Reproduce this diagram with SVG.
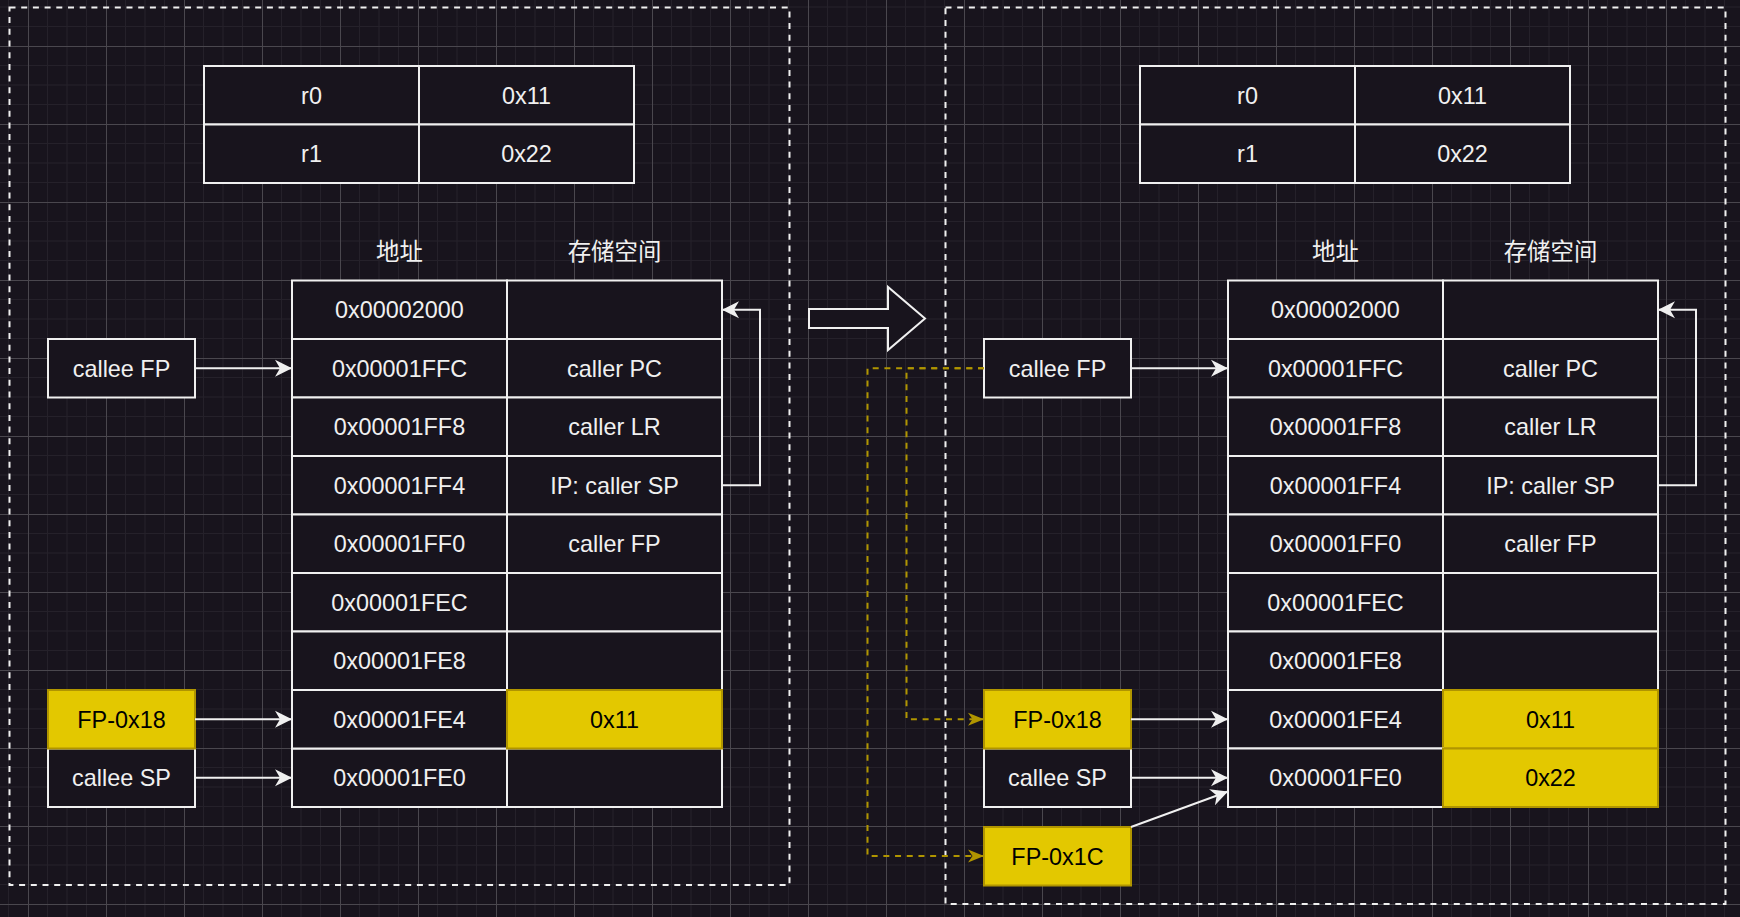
<svg xmlns="http://www.w3.org/2000/svg" width="1740" height="917" viewBox="0 0 1740 917">
<style>
.cell{fill:#18141d;stroke:#f0f0f0;stroke-width:2}
.ycell{fill:#e3c800;stroke:#b09500;stroke-width:2}
.t{font-family:"Liberation Sans",Arial,sans-serif;font-size:23.4px;fill:#f0f0f0;text-anchor:middle}
.yt{fill:#000000}
.hdr{font-family:"Noto Sans CJK SC","Noto Sans CJK JP",sans-serif;font-size:23.4px;fill:#f0f0f0;text-anchor:middle}
.conn{stroke:#f0f0f0;stroke-width:2;fill:none}
.dconn{stroke:#b09500;stroke-width:2;fill:none;stroke-dasharray:6 5.7}
.frame{fill:none;stroke:#f0f0f0;stroke-width:2;stroke-dasharray:6 5.7}
</style>
<defs>
<pattern id="grid" x="28" y="46" width="78" height="78" patternUnits="userSpaceOnUse">
<rect x="0" y="0" width="78" height="78" fill="#18141d"/>
<g fill="#25212a">
<rect x="19" y="0" width="1" height="78"/><rect x="38.5" y="0" width="1" height="78"/><rect x="58" y="0" width="1" height="78"/>
<rect x="0" y="19" width="78" height="1"/><rect x="0" y="38.5" width="78" height="1"/><rect x="0" y="58" width="78" height="1"/>
</g>
<g fill="#4a474e">
<rect x="0" y="0" width="1" height="78"/><rect x="0" y="0" width="78" height="1"/>
</g>
</pattern>
<marker id="arrW" markerUnits="userSpaceOnUse" markerWidth="18" markerHeight="18" refX="17" refY="8.5" orient="auto" viewBox="0 0 18 17">
<path d="M17,8.5 L0,0 L5,8.5 L0,17 Z" fill="#f0f0f0"/>
</marker>
<marker id="arrY" markerUnits="userSpaceOnUse" markerWidth="16" markerHeight="14" refX="16" refY="6.5" orient="auto" viewBox="0 0 16 13">
<path d="M16,6.5 L0,0 L4.5,6.5 L0,13 Z" fill="#b09500"/>
</marker>
</defs>
<rect x="0" y="0" width="1740" height="917" fill="url(#grid)"/>

<g id="frames">
<rect class="frame" x="9.5" y="7.5" width="780" height="877.5"/>
<rect class="frame" x="945.5" y="7.5" width="780" height="896.5"/>
</g>

<g id="transition-arrow">
<path d="M809,309 L888,309 L888,287 L925,318.5 L888,350 L888,328 L809,328 Z" fill="#18141d" stroke="#f0f0f0" stroke-width="2"/>
</g>

<!-- LEFT PANEL -->
<g id="L-regs">
<rect class="cell" x="204" y="66" width="215" height="58.5"/>
<rect class="cell" x="419" y="66" width="215" height="58.5"/>
<rect class="cell" x="204" y="124.5" width="215" height="58.5"/>
<rect class="cell" x="419" y="124.5" width="215" height="58.5"/>
<text class="t" x="311.5" y="103.6">r0</text>
<text class="t" x="526.5" y="103.6">0x11</text>
<text class="t" x="311.5" y="162.1">r1</text>
<text class="t" x="526.5" y="162.1">0x22</text>
</g>
<g id="L-headers">
<text class="hdr" x="399.5" y="259.5">地址</text>
<text class="hdr" x="614.5" y="259.5">存储空间</text>
</g>
<g id="L-mem">
<g id="L-row0"><rect class="cell" x="292" y="280.5" width="215" height="58.5"/><rect class="cell" x="507" y="280.5" width="215" height="58.5"/><text class="t" x="399.5" y="318.1">0x00002000</text></g>
<g id="L-row1"><rect class="cell" x="292" y="339" width="215" height="58.5"/><rect class="cell" x="507" y="339" width="215" height="58.5"/><text class="t" x="399.5" y="376.6">0x00001FFC</text><text class="t" x="614.5" y="376.6">caller PC</text></g>
<g id="L-row2"><rect class="cell" x="292" y="397.5" width="215" height="58.5"/><rect class="cell" x="507" y="397.5" width="215" height="58.5"/><text class="t" x="399.5" y="435.1">0x00001FF8</text><text class="t" x="614.5" y="435.1">caller LR</text></g>
<g id="L-row3"><rect class="cell" x="292" y="456" width="215" height="58.5"/><rect class="cell" x="507" y="456" width="215" height="58.5"/><text class="t" x="399.5" y="493.6">0x00001FF4</text><text class="t" x="614.5" y="493.6">IP: caller SP</text></g>
<g id="L-row4"><rect class="cell" x="292" y="514.5" width="215" height="58.5"/><rect class="cell" x="507" y="514.5" width="215" height="58.5"/><text class="t" x="399.5" y="552.1">0x00001FF0</text><text class="t" x="614.5" y="552.1">caller FP</text></g>
<g id="L-row5"><rect class="cell" x="292" y="573" width="215" height="58.5"/><rect class="cell" x="507" y="573" width="215" height="58.5"/><text class="t" x="399.5" y="610.6">0x00001FEC</text></g>
<g id="L-row6"><rect class="cell" x="292" y="631.5" width="215" height="58.5"/><rect class="cell" x="507" y="631.5" width="215" height="58.5"/><text class="t" x="399.5" y="669.1">0x00001FE8</text></g>
<g id="L-row8"><rect class="cell" x="292" y="748.5" width="215" height="58.5"/><rect class="cell" x="507" y="748.5" width="215" height="58.5"/><text class="t" x="399.5" y="786.1">0x00001FE0</text></g>
<g id="L-row7"><rect class="cell" x="292" y="690" width="215" height="58.5"/><rect class="ycell" x="507" y="690" width="215" height="58.5"/><text class="t" x="399.5" y="727.6">0x00001FE4</text><text class="t yt" x="614.5" y="727.6">0x11</text></g>
</g>
<g id="L-calleeFP"><rect class="cell" x="48" y="339" width="147" height="58.5"/><text class="t" x="121.5" y="376.6">callee FP</text></g>
<g id="L-calleeSP"><rect class="cell" x="48" y="748.5" width="147" height="58.5"/><text class="t" x="121.5" y="786.1">callee SP</text></g>
<g id="L-FP0x18"><rect class="ycell" x="48" y="690" width="147" height="58.5"/><text class="t yt" x="121.5" y="727.6">FP-0x18</text></g>

<!-- RIGHT PANEL -->
<g id="R-regs">
<rect class="cell" x="1140" y="66" width="215" height="58.5"/>
<rect class="cell" x="1355" y="66" width="215" height="58.5"/>
<rect class="cell" x="1140" y="124.5" width="215" height="58.5"/>
<rect class="cell" x="1355" y="124.5" width="215" height="58.5"/>
<text class="t" x="1247.5" y="103.6">r0</text>
<text class="t" x="1462.5" y="103.6">0x11</text>
<text class="t" x="1247.5" y="162.1">r1</text>
<text class="t" x="1462.5" y="162.1">0x22</text>
</g>
<g id="R-headers">
<text class="hdr" x="1335.5" y="259.5">地址</text>
<text class="hdr" x="1550.5" y="259.5">存储空间</text>
</g>
<g id="R-mem">
<g id="R-row0"><rect class="cell" x="1228" y="280.5" width="215" height="58.5"/><rect class="cell" x="1443" y="280.5" width="215" height="58.5"/><text class="t" x="1335.5" y="318.1">0x00002000</text></g>
<g id="R-row1"><rect class="cell" x="1228" y="339" width="215" height="58.5"/><rect class="cell" x="1443" y="339" width="215" height="58.5"/><text class="t" x="1335.5" y="376.6">0x00001FFC</text><text class="t" x="1550.5" y="376.6">caller PC</text></g>
<g id="R-row2"><rect class="cell" x="1228" y="397.5" width="215" height="58.5"/><rect class="cell" x="1443" y="397.5" width="215" height="58.5"/><text class="t" x="1335.5" y="435.1">0x00001FF8</text><text class="t" x="1550.5" y="435.1">caller LR</text></g>
<g id="R-row3"><rect class="cell" x="1228" y="456" width="215" height="58.5"/><rect class="cell" x="1443" y="456" width="215" height="58.5"/><text class="t" x="1335.5" y="493.6">0x00001FF4</text><text class="t" x="1550.5" y="493.6">IP: caller SP</text></g>
<g id="R-row4"><rect class="cell" x="1228" y="514.5" width="215" height="58.5"/><rect class="cell" x="1443" y="514.5" width="215" height="58.5"/><text class="t" x="1335.5" y="552.1">0x00001FF0</text><text class="t" x="1550.5" y="552.1">caller FP</text></g>
<g id="R-row5"><rect class="cell" x="1228" y="573" width="215" height="58.5"/><rect class="cell" x="1443" y="573" width="215" height="58.5"/><text class="t" x="1335.5" y="610.6">0x00001FEC</text></g>
<g id="R-row6"><rect class="cell" x="1228" y="631.5" width="215" height="58.5"/><rect class="cell" x="1443" y="631.5" width="215" height="58.5"/><text class="t" x="1335.5" y="669.1">0x00001FE8</text></g>
<g id="R-row7"><rect class="cell" x="1228" y="690" width="215" height="58.5"/><rect class="ycell" x="1443" y="690" width="215" height="58.5"/><text class="t" x="1335.5" y="727.6">0x00001FE4</text><text class="t yt" x="1550.5" y="727.6">0x11</text></g>
<g id="R-row8"><rect class="cell" x="1228" y="748.5" width="215" height="58.5"/><rect class="ycell" x="1443" y="748.5" width="215" height="58.5"/><text class="t" x="1335.5" y="786.1">0x00001FE0</text><text class="t yt" x="1550.5" y="786.1">0x22</text></g>
</g>
<g id="R-calleeFP"><rect class="cell" x="984" y="339" width="147" height="58.5"/><text class="t" x="1057.5" y="376.6">callee FP</text></g>
<g id="R-calleeSP"><rect class="cell" x="984" y="748.5" width="147" height="58.5"/><text class="t" x="1057.5" y="786.1">callee SP</text></g>
<g id="R-FP0x18"><rect class="ycell" x="984" y="690" width="147" height="58.5"/><text class="t yt" x="1057.5" y="727.6">FP-0x18</text></g>
<g id="R-FP0x1C"><rect class="ycell" x="984" y="827" width="147" height="58.5"/><text class="t yt" x="1057.5" y="864.6">FP-0x1C</text></g>

<g id="connectors">
<path class="conn" d="M195,368.25 H292" marker-end="url(#arrW)"/>
<path class="conn" d="M195,719.25 H292" marker-end="url(#arrW)"/>
<path class="conn" d="M195,777.75 H292" marker-end="url(#arrW)"/>
<path class="conn" d="M722,485.25 H760 V309.75 H722" marker-end="url(#arrW)"/>
<path class="conn" d="M1131,368.25 H1228" marker-end="url(#arrW)"/>
<path class="conn" d="M1131,719.25 H1228" marker-end="url(#arrW)"/>
<path class="conn" d="M1131,777.75 H1228" marker-end="url(#arrW)"/>
<path class="conn" d="M1131,827 L1228,791.5" marker-end="url(#arrW)"/>
<path class="conn" d="M1658,485.25 H1696 V309.75 H1658" marker-end="url(#arrW)"/>
<path class="dconn" d="M984,368.25 H906.5 V719.25 H984" marker-end="url(#arrY)"/>
<path class="dconn" d="M984,368.25 H867.5 V856 H984" marker-end="url(#arrY)"/>
</g>
</svg>
